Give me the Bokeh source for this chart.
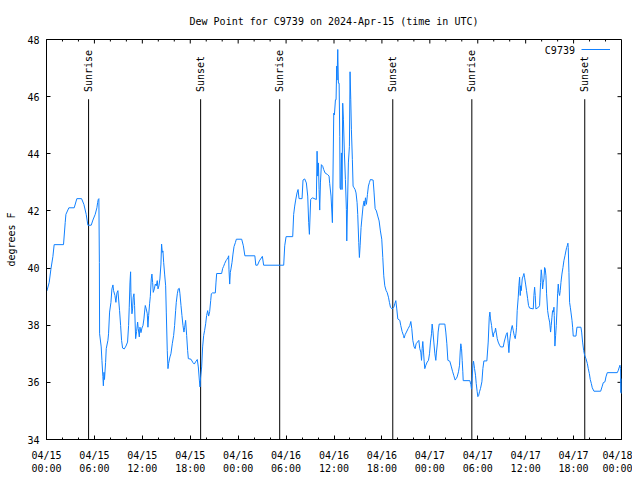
import math
from bokeh.plotting import figure
from bokeh.models import FixedTicker, Range1d, Label, Legend, LegendItem
from bokeh.core.properties import value
from bokeh.embed import file_html
from bokeh.resources import INLINE

# ---- data (hours since 2024-04-15 00:00 UTC, dew point in F) ----
hours = [
    0.05, 0.34, 0.55, 0.8, 0.96, 2.13, 2.34, 2.43, 2.8, 3.47, 3.8, 4.39, 4.68, 4.97, 5.18, 5.6,
    5.81, 6.1, 6.31, 6.4, 6.48, 6.56, 6.62, 6.65, 6.85, 6.94, 7.06, 7.12, 7.2, 7.26, 7.4,
    7.48, 7.69, 7.77, 7.9, 8.07, 8.19, 8.32, 8.4, 8.57, 8.69, 8.82, 8.94, 9.15, 9.28, 9.4,
    9.53, 9.74, 9.95, 10.15, 10.28, 10.36, 10.45, 10.53, 10.57, 10.7, 10.78, 10.86, 10.95,
    11.03, 11.16, 11.28, 11.41, 11.49, 11.62, 11.7, 11.83, 11.95, 12.08, 12.2, 12.28, 12.37,
    12.49, 12.62, 12.7, 12.79, 12.91, 13.0, 13.12, 13.2, 13.29, 13.37, 13.5, 13.62, 13.75,
    13.87, 13.96, 14.08, 14.2, 14.33, 14.41, 14.5, 14.58, 14.67, 14.79, 14.92, 15.0, 15.12,
    15.21, 15.29, 15.46, 15.58, 15.75, 15.92, 16.04, 16.17, 16.25, 16.38, 16.5, 16.63, 16.71,
    16.84, 16.96, 17.09, 17.21, 17.3, 17.42, 17.55, 17.67, 17.76, 18.09, 18.34, 18.51, 18.72,
    18.88, 19.01, 19.14, 19.22, 19.3, 19.43, 19.55, 19.68, 19.8, 19.93, 20.05, 20.18, 20.3,
    20.43, 20.56, 20.64, 20.77, 21.14, 21.22, 21.31, 21.93, 22.06, 22.18, 22.31, 22.48, 22.6,
    22.73, 22.81, 22.85, 22.94, 23.02, 23.1, 23.23, 23.35, 23.48, 23.65, 23.77, 24.44, 24.65,
    24.84, 26.09, 26.21, 26.42, 26.65, 27.03, 27.19, 29.7, 29.83, 30.0, 30.83, 30.95, 31.08,
    31.2, 31.37, 31.5, 31.62, 32.0, 32.12, 32.33, 32.54, 32.71, 32.83, 32.92, 33.08, 33.29,
    33.79, 33.88, 33.96, 34.05, 34.13, 34.21, 34.3, 34.42, 34.59, 34.71, 34.88, 35.21, 35.38,
    35.46, 35.63, 35.8, 35.97, 36.05, 36.18, 36.26, 36.34, 36.38, 36.47, 36.55, 36.64, 36.72,
    36.76, 36.84, 36.93, 37.01, 37.09, 37.18, 37.3, 37.43, 37.55, 37.6, 37.8, 37.93, 38.01,
    38.1, 38.18, 38.3, 38.39, 38.51, 38.64, 38.76, 38.89, 38.97, 39.1, 39.18, 39.27, 39.39,
    39.52, 39.64, 39.77, 39.85, 39.94, 40.06, 40.19, 40.31, 40.44, 40.56, 40.9, 41.02, 41.15,
    41.31, 41.48, 41.65, 41.81, 41.98, 42.11, 42.23, 42.36, 42.53, 42.65, 42.82, 42.94, 43.07,
    43.28, 43.49, 43.61, 43.74, 43.86, 43.99, 44.24, 44.36, 44.53, 44.7, 44.78, 44.91, 45.07,
    45.28, 45.49, 45.62, 45.74, 45.87, 46.03, 46.16, 46.28, 46.45, 46.62, 46.74, 46.87, 46.96,
    47.04, 47.12, 47.21, 47.29, 47.37, 47.5, 47.67, 47.83, 47.96, 48.08, 48.21, 48.29, 48.38,
    48.5, 48.63, 48.75, 48.83, 48.96, 49.04, 49.17, 49.88, 50.0, 50.13, 50.26, 50.5, 50.67,
    50.84, 51.01, 51.17, 51.3, 51.42, 51.59, 51.72, 51.8, 51.88, 51.97, 52.05, 52.13, 52.18,
    53.01, 53.14, 53.22, 53.3, 53.39, 53.47, 53.6, 53.72, 53.81, 53.93, 54.01, 54.1, 54.22,
    54.35, 54.52, 54.64, 54.77, 55.14, 55.31, 55.44, 55.52, 55.6, 55.73, 55.85, 55.94, 56.02,
    56.15, 56.23, 56.31, 56.44, 56.56, 56.73, 56.86, 57.19, 57.31, 57.44, 57.56, 57.69, 57.82,
    57.9, 57.98, 58.11, 58.23, 58.32, 58.44, 58.57, 58.69, 58.78, 58.86, 58.94, 59.07, 59.15,
    59.24, 59.32, 59.36, 59.45, 59.57, 59.7, 59.78, 59.86, 59.99, 60.11, 60.24, 60.36, 60.49,
    60.95, 61.03, 61.12, 61.2, 61.28, 61.62, 61.74, 61.87, 61.95, 62.03, 62.12, 62.2, 62.29,
    62.37, 62.45, 62.54, 62.62, 62.75, 62.87, 63.0, 63.12, 63.2, 63.29, 63.37, 63.46, 63.54,
    63.58, 63.66, 63.75, 63.83, 63.91, 64.0, 64.08, 64.16, 64.25, 64.33, 64.42, 64.54, 64.67,
    64.79, 64.92, 65.04, 65.13, 65.21, 65.29, 65.33, 65.42, 65.5, 65.59, 65.67, 65.8, 65.88,
    65.96, 66.3, 66.42, 66.92, 67.01, 67.13, 67.26, 67.38, 67.55, 67.72, 67.84, 67.97, 68.09,
    68.22, 68.34, 68.55, 69.39, 69.56, 69.72, 69.93, 70.05, 70.22, 71.47, 71.6, 71.73, 71.81,
    71.89, 71.93, 71.95, 71.99,
]
dew_f = [
    39.2, 39.5, 39.96, 40.4, 40.82, 40.82, 41.59, 41.88, 42.11, 42.11, 42.43, 42.43, 42.23, 41.88, 41.5, 41.5,
    41.68, 41.88, 42.11, 42.29, 42.4, 42.43, 40.2, 37.7, 37.24, 36.77, 36.2, 35.88, 36.35, 36.1, 36.7,
    37.18, 37.47, 37.7, 38.46, 38.8, 39.27, 39.41, 39.21, 39.04, 38.8, 39.13, 39.21, 38.51, 37.99, 37.47,
    37.2, 37.17, 37.27, 37.41, 37.99, 38.63, 39.48, 39.87, 39.15, 38.4, 38.57, 38.98, 39.1,
    38.69, 37.53, 37.78, 38.11, 37.88, 37.59, 37.93, 37.74, 37.9, 37.99, 38.22, 38.46, 38.69,
    38.57, 38.4, 37.93, 38.34, 38.75, 39.01, 39.62, 39.79, 39.5, 39.15, 39.27, 39.44, 39.38,
    39.56, 39.27, 39.38, 39.62, 40.14, 40.84, 40.55, 40.6, 40.2, 39.79, 39.38, 38.46, 37.12,
    36.48, 36.66, 36.89, 37.0, 37.35, 37.64, 37.99, 38.51, 38.8, 39.1, 39.27, 39.29, 39.1,
    38.69, 38.34, 37.99, 37.76, 37.93, 38.17, 37.64, 37.12, 36.83, 36.81, 36.69, 36.64, 36.74,
    36.8, 36.54, 36.08, 35.84, 36.19, 36.54, 37.24, 37.64, 37.82, 38.05, 38.34, 38.51, 38.32,
    38.48, 38.86, 39.1, 39.13, 39.13, 39.48, 39.81, 39.81, 39.99, 40.06, 40.16, 40.26, 40.31,
    40.37, 40.43, 39.94, 39.44, 39.85, 39.97, 40.2, 40.49, 40.75, 40.89, 41.01, 41.01, 40.78,
    40.43, 40.43, 40.1, 40.1, 40.25, 40.41, 40.1, 40.1, 40.78, 41.1, 41.1, 41.88, 42.17,
    42.38, 42.63, 42.75, 42.43, 42.43, 43.08, 43.12, 42.98, 42.52, 41.59, 41.18, 42.4, 42.46,
    42.4, 44.09, 43.22, 43.68, 42.75, 42.03, 42.98, 43.62, 43.56, 43.45, 43.33, 43.27, 43.22,
    42.96, 42.52, 41.59, 45.42, 45.36, 45.89, 45.89, 47.07, 46.58, 47.65, 46.47, 46.47, 44.61,
    42.81, 42.75, 44.03, 42.75, 45.77, 45.19, 44.03, 43.1, 42.05, 40.95, 43.68, 44.26, 46.87,
    45.89, 44.84, 43.8, 42.87, 42.81, 42.75, 42.63, 42.29, 41.88, 40.89, 40.37, 40.78, 41.42,
    41.82, 42.17, 42.35, 42.17, 42.46, 42.23, 42.58, 42.87, 43.0, 43.1, 43.08, 42.63, 42.08,
    42.0, 41.82, 41.65, 41.3, 41.01, 40.37, 39.73, 39.38, 39.21, 39.15, 38.98, 38.8, 38.63,
    38.57, 38.63, 38.75, 38.86, 38.57, 38.22, 38.17, 37.99, 37.78, 37.64, 37.55, 37.67, 37.76,
    37.88, 37.99, 38.13, 37.88, 37.47, 37.24, 37.18, 37.35, 37.41, 37.47, 37.18, 37.06, 36.77,
    37.18, 37.43, 37.06, 36.74, 36.48, 36.6, 36.71, 36.77, 37.0, 37.41, 37.7, 38.04, 37.82,
    37.41, 37.0, 36.77, 37.06, 37.41, 37.76, 38.04, 38.04, 37.76, 37.35, 36.77, 36.74, 36.57,
    36.39, 36.23, 36.08, 36.13, 36.19, 36.37, 36.6, 37.06, 37.35, 37.18, 36.77, 36.37, 36.06,
    36.06, 35.92, 35.76, 36.13, 36.6, 36.74, 36.48, 36.25, 35.96, 35.67, 35.5, 35.53, 35.67,
    35.79, 36.02, 36.48, 36.75, 36.75, 37.41, 38.28, 38.46, 38.22, 37.99, 37.7, 37.59, 37.74,
    37.76, 37.9, 37.76, 37.53, 37.41, 37.3, 37.24, 37.24, 37.41, 37.55, 37.67, 37.74, 37.35,
    37.04, 37.41, 37.7, 37.9, 37.99, 37.82, 37.64, 37.53, 37.7, 37.93, 38.51, 38.98, 39.38,
    39.68, 39.04, 39.38, 39.21, 39.62, 39.73, 39.81, 39.68, 39.44, 39.21, 38.94, 38.69, 38.6,
    38.57, 39.04, 39.33, 39.04, 38.57, 38.63, 38.69, 39.5, 39.94, 39.73, 39.27, 39.5, 39.62,
    40.02, 39.97, 39.73, 39.1, 38.51, 38.28, 38.11, 37.76, 37.99, 38.28, 38.51, 38.46, 38.63,
    38.34, 37.27, 37.64, 37.99, 38.46, 39.1, 39.44, 39.15, 39.04, 39.21, 39.5, 39.79, 40.02,
    40.26, 40.43, 40.6, 40.72, 40.78, 40.87, 40.72, 39.85, 38.8, 38.63, 38.46, 38.17, 37.93,
    37.62, 37.62, 37.93, 37.93, 37.76, 37.41, 37.12, 36.95, 36.83, 36.66, 36.48, 36.31, 36.1,
    35.96, 35.81, 35.69, 35.69, 35.84, 35.99, 36.02, 36.19, 36.34, 36.34, 36.42, 36.54, 36.6,
    36.48, 35.64, 36.13, 35.6,
]
x_ticks = [0, 6, 12, 18, 24, 30, 36, 42, 48, 54, 60, 66, 72]
x_minor_ticks = list(range(0, 73, 2))
x_tick_labels = ["04/15\n00:00", "04/15\n06:00", "04/15\n12:00", "04/15\n18:00",
                 "04/16\n00:00", "04/16\n06:00", "04/16\n12:00", "04/16\n18:00",
                 "04/17\n00:00", "04/17\n06:00", "04/17\n12:00", "04/17\n18:00",
                 "04/18\n00:00"]
y_ticks = [34, 36, 38, 40, 42, 44, 46, 48]
event_hours = [5.27, 19.3, 29.2, 43.36, 53.26, 67.4]
event_names = ["Sunrise", "Sunset", "Sunrise", "Sunset", "Sunrise", "Sunset"]
series_name = "C9739"
title_text = "Dew Point for C9739 on 2024-Apr-15 (time in UTC)"

FONT = "DejaVu Sans Mono"
FS = "10px"
LINE_COLOR = "#1080ff"
EVENT_LINE_TOP = 45.91
EVENT_LABEL_Y = 46.16
X0, X1 = 0, 72
Y0, Y1 = 34, 48

p = figure(width=632, height=476, output_backend="svg", toolbar_location=None,
           x_range=Range1d(X0, X1), y_range=Range1d(Y0, Y1),
           min_border_left=46, min_border_right=11, min_border_top=39, min_border_bottom=37,
           title=title_text)
p.title.align = "center"
p.title.text_font = FONT
p.title.text_font_size = FS
p.title.text_font_style = "normal"
p.title.text_color = "black"
p.title.standoff = 25
p.xgrid.visible = False
p.ygrid.visible = False
p.outline_line_color = "black"
p.outline_line_width = 1
p.background_fill_color = "white"
p.border_fill_color = "white"

def style_axis(ax):
    ax.axis_line_color = "black"
    ax.major_tick_line_color = "black"
    ax.minor_tick_line_color = "black"
    ax.major_tick_in = 4
    ax.major_tick_out = 0
    ax.minor_tick_in = 2
    ax.minor_tick_out = 0
    ax.major_label_text_font = FONT
    ax.major_label_text_font_size = FS
    ax.major_label_text_color = "black"

xa = p.xaxis[0]
xa.ticker = FixedTicker(ticks=x_ticks, minor_ticks=x_minor_ticks)
xa.major_label_overrides = {t: l for t, l in zip(x_ticks, x_tick_labels)}
style_axis(xa)
xa.major_label_standoff = 10

ya = p.yaxis[0]
ya.ticker = FixedTicker(ticks=y_ticks, minor_ticks=[])
style_axis(ya)
ya.major_label_standoff = 7
ya.axis_label = "degrees F"
ya.axis_label_text_font = FONT
ya.axis_label_text_font_size = FS
ya.axis_label_text_font_style = "normal"
ya.axis_label_text_color = "black"
ya.axis_label_standoff = 7

# mirrored inward ticks on the top and right borders
top_major = [t for t in x_ticks if X0 < t < X1]
top_minor = [t for t in x_minor_ticks if X0 < t < X1 and t not in x_ticks]
p.ray(x=top_major, y=[Y1] * len(top_major), length=4, length_units="screen",
      angle=-math.pi / 2, line_color="black", line_width=1)
p.ray(x=top_minor, y=[Y1] * len(top_minor), length=2, length_units="screen",
      angle=-math.pi / 2, line_color="black", line_width=1)
right_major = [t for t in y_ticks if Y0 < t < Y1]
p.ray(x=[X1] * len(right_major), y=right_major, length=4, length_units="screen",
      angle=math.pi, line_color="black", line_width=1)

# sunrise / sunset markers
p.segment(x0=event_hours, y0=[Y0] * len(event_hours), x1=event_hours,
          y1=[EVENT_LINE_TOP] * len(event_hours), line_color="black", line_width=1)
p.text(x=event_hours, y=[EVENT_LABEL_Y] * len(event_hours), text=event_names,
       angle=math.pi / 2, text_align="left", text_baseline="middle",
       text_font=value(FONT), text_font_size=FS, text_color="black")

r = p.line(hours, dew_f, line_color=LINE_COLOR, line_width=1)

# legend: label text left of sample line (gnuplot style)
legend = Legend(items=[LegendItem(label=" ", renderers=[r])], location=(535, 385))
legend.margin = 0
legend.padding = 0
legend.spacing = 0
legend.border_line_alpha = 0
legend.background_fill_alpha = 0
legend.glyph_width = 29
legend.glyph_height = 10
legend.label_standoff = 0
legend.label_width = 0
legend.label_height = 10
legend.label_text_font_size = FS
p.add_layout(legend, "center")
p.add_layout(Label(x=66.17, y=47.63, text=series_name, text_align="right",
                   text_baseline="middle", text_font=FONT, text_font_size=FS,
                   text_color="black"))

open("out.html", "w").write(file_html(p, INLINE))
